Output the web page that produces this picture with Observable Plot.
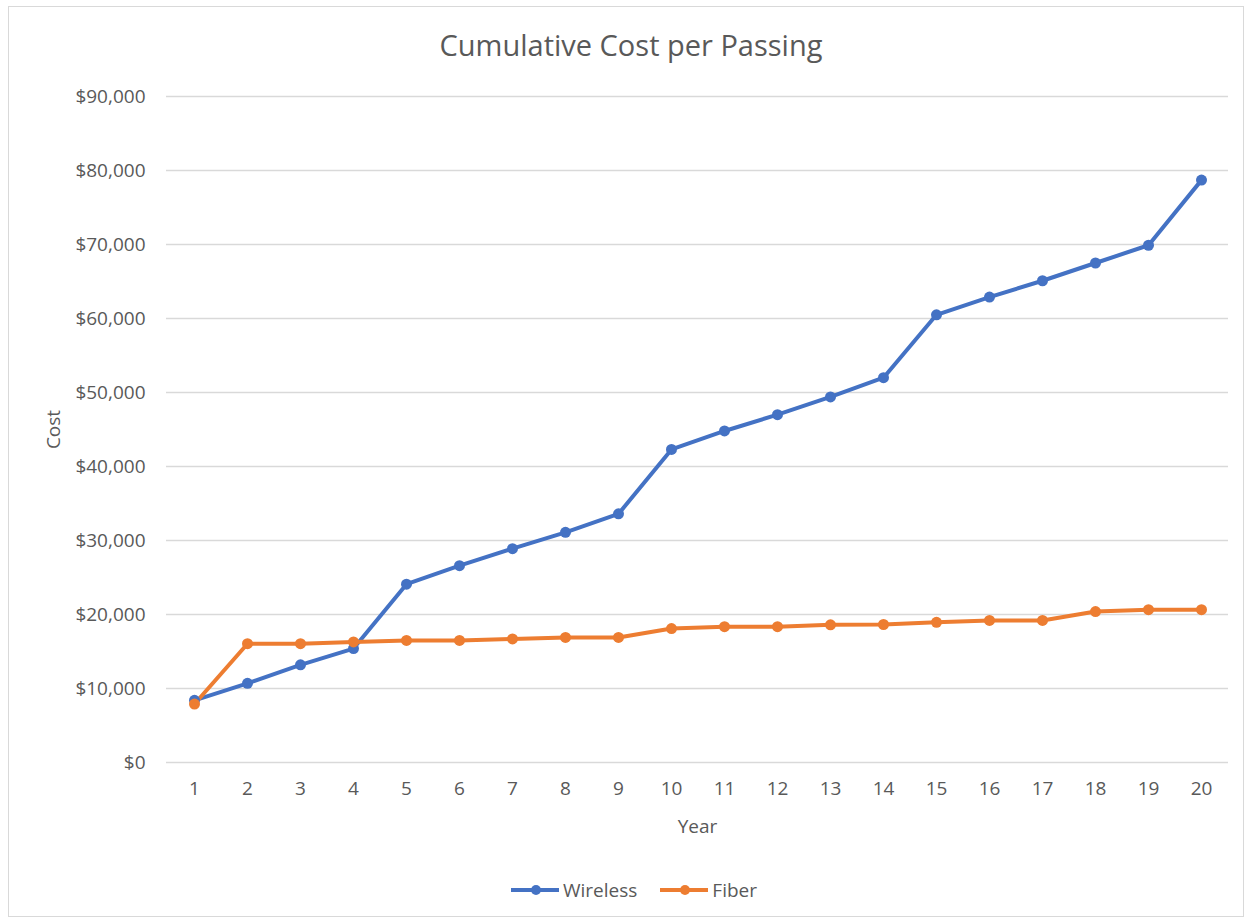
<!DOCTYPE html>
<html>
<head>
<meta charset="utf-8">
<script src="https://cdn.jsdelivr.net/npm/d3@7"></script>
<script src="https://cdn.jsdelivr.net/npm/@observablehq/plot@0.6"></script>
<style>
  html, body { margin: 0; padding: 0; background: #fff; }
  body { width: 1250px; height: 920px; position: relative; font-family: "Open Sans", sans-serif; color: #595959; }
  #frame { position: absolute; left: 8px; top: 6px; width: 1236px; height: 911px; border: 1px solid #d9d9d9; box-sizing: border-box; }
  #title { position: absolute; left: 8px; top: 25px; width: 1246px; text-align: center; font-size: 29px; color: #595959; }
  #chart { position: absolute; left: 0; top: 76px; }
  #legend { position: absolute; left: 510px; top: 877px; display: flex; align-items: center; font-size: 19px; color: #595959; }
  #legend .item { display: flex; align-items: center; margin-right: 22px; }
  #legend svg { margin-right: 3px; }
</style>
</head>
<body>
<div id="frame"></div>
<div id="title">Cumulative Cost per Passing</div>
<div id="chart"></div>
<div id="legend"></div>
<script>
const years = [1,2,3,4,5,6,7,8,9,10,11,12,13,14,15,16,17,18,19,20];
const wireless = [8400,10700,13200,15400,24100,26600,28900,31100,33600,42300,44800,47000,49400,52000,60500,62900,65100,67500,69900,78700];
const fiber = [7900,16050,16050,16300,16500,16500,16700,16900,16900,18100,18350,18350,18600,18650,18950,19200,19200,20400,20650,20650];
const seriesNames = ["Wireless", "Fiber"];
const seriesColors = ["#4472C4", "#ED7D31"];
const yTicks = [0,10000,20000,30000,40000,50000,60000,70000,80000,90000];

const rows = [];
years.forEach((yr, i) => {
  rows.push({year: yr, cost: wireless[i], series: seriesNames[0]});
});
years.forEach((yr, i) => {
  rows.push({year: yr, cost: fiber[i], series: seriesNames[1]});
});

const fmt = d3.format(",");
const chart = Plot.plot({
  width: 1250,
  height: 770,
  marginTop: 20,
  marginBottom: 84,
  marginLeft: 166,
  marginRight: 22,
  style: { fontFamily: "Open Sans, sans-serif", fontSize: "19px", color: "#595959", background: "transparent" },
  x: { type: "point", domain: years, padding: 0.5 },
  y: { domain: [0, 90000] },
  color: { domain: seriesNames, range: seriesColors },
  marks: [
    Plot.gridY(yTicks, { stroke: "#d9d9d9", strokeOpacity: 1, strokeWidth: 1.3 }),
    Plot.axisY(yTicks, {
      tickFormat: d => "$" + fmt(d), tickSize: 0, tickPadding: 21,
      label: "Cost", labelAnchor: "center", labelArrow: "none", labelOffset: 120,
      fontSize: 19, fill: "#595959"
    }),
    Plot.axisX({
      tickSize: 0, tickPadding: 19,
      label: "Year", labelAnchor: "center", labelArrow: "none", labelOffset: 70,
      fontSize: 19, fill: "#595959"
    }),
    Plot.line(rows, { x: "year", y: "cost", z: "series", stroke: "series", strokeWidth: 4, strokeLinejoin: "round", strokeLinecap: "round" }),
    Plot.dot(rows, { x: "year", y: "cost", fill: "series", r: 5.5 })
  ]
});
document.getElementById("chart").appendChild(chart);

const legend = document.getElementById("legend");
seriesNames.forEach((name, i) => {
  const item = document.createElement("div");
  item.className = "item";
  item.innerHTML = `<svg width="50" height="14"><line x1="1" y1="7" x2="49" y2="7" stroke="${seriesColors[i]}" stroke-width="4"/><circle cx="26" cy="7" r="5" fill="${seriesColors[i]}"/></svg><span>${name}</span>`;
  legend.appendChild(item);
});
</script>
</body>
</html>
